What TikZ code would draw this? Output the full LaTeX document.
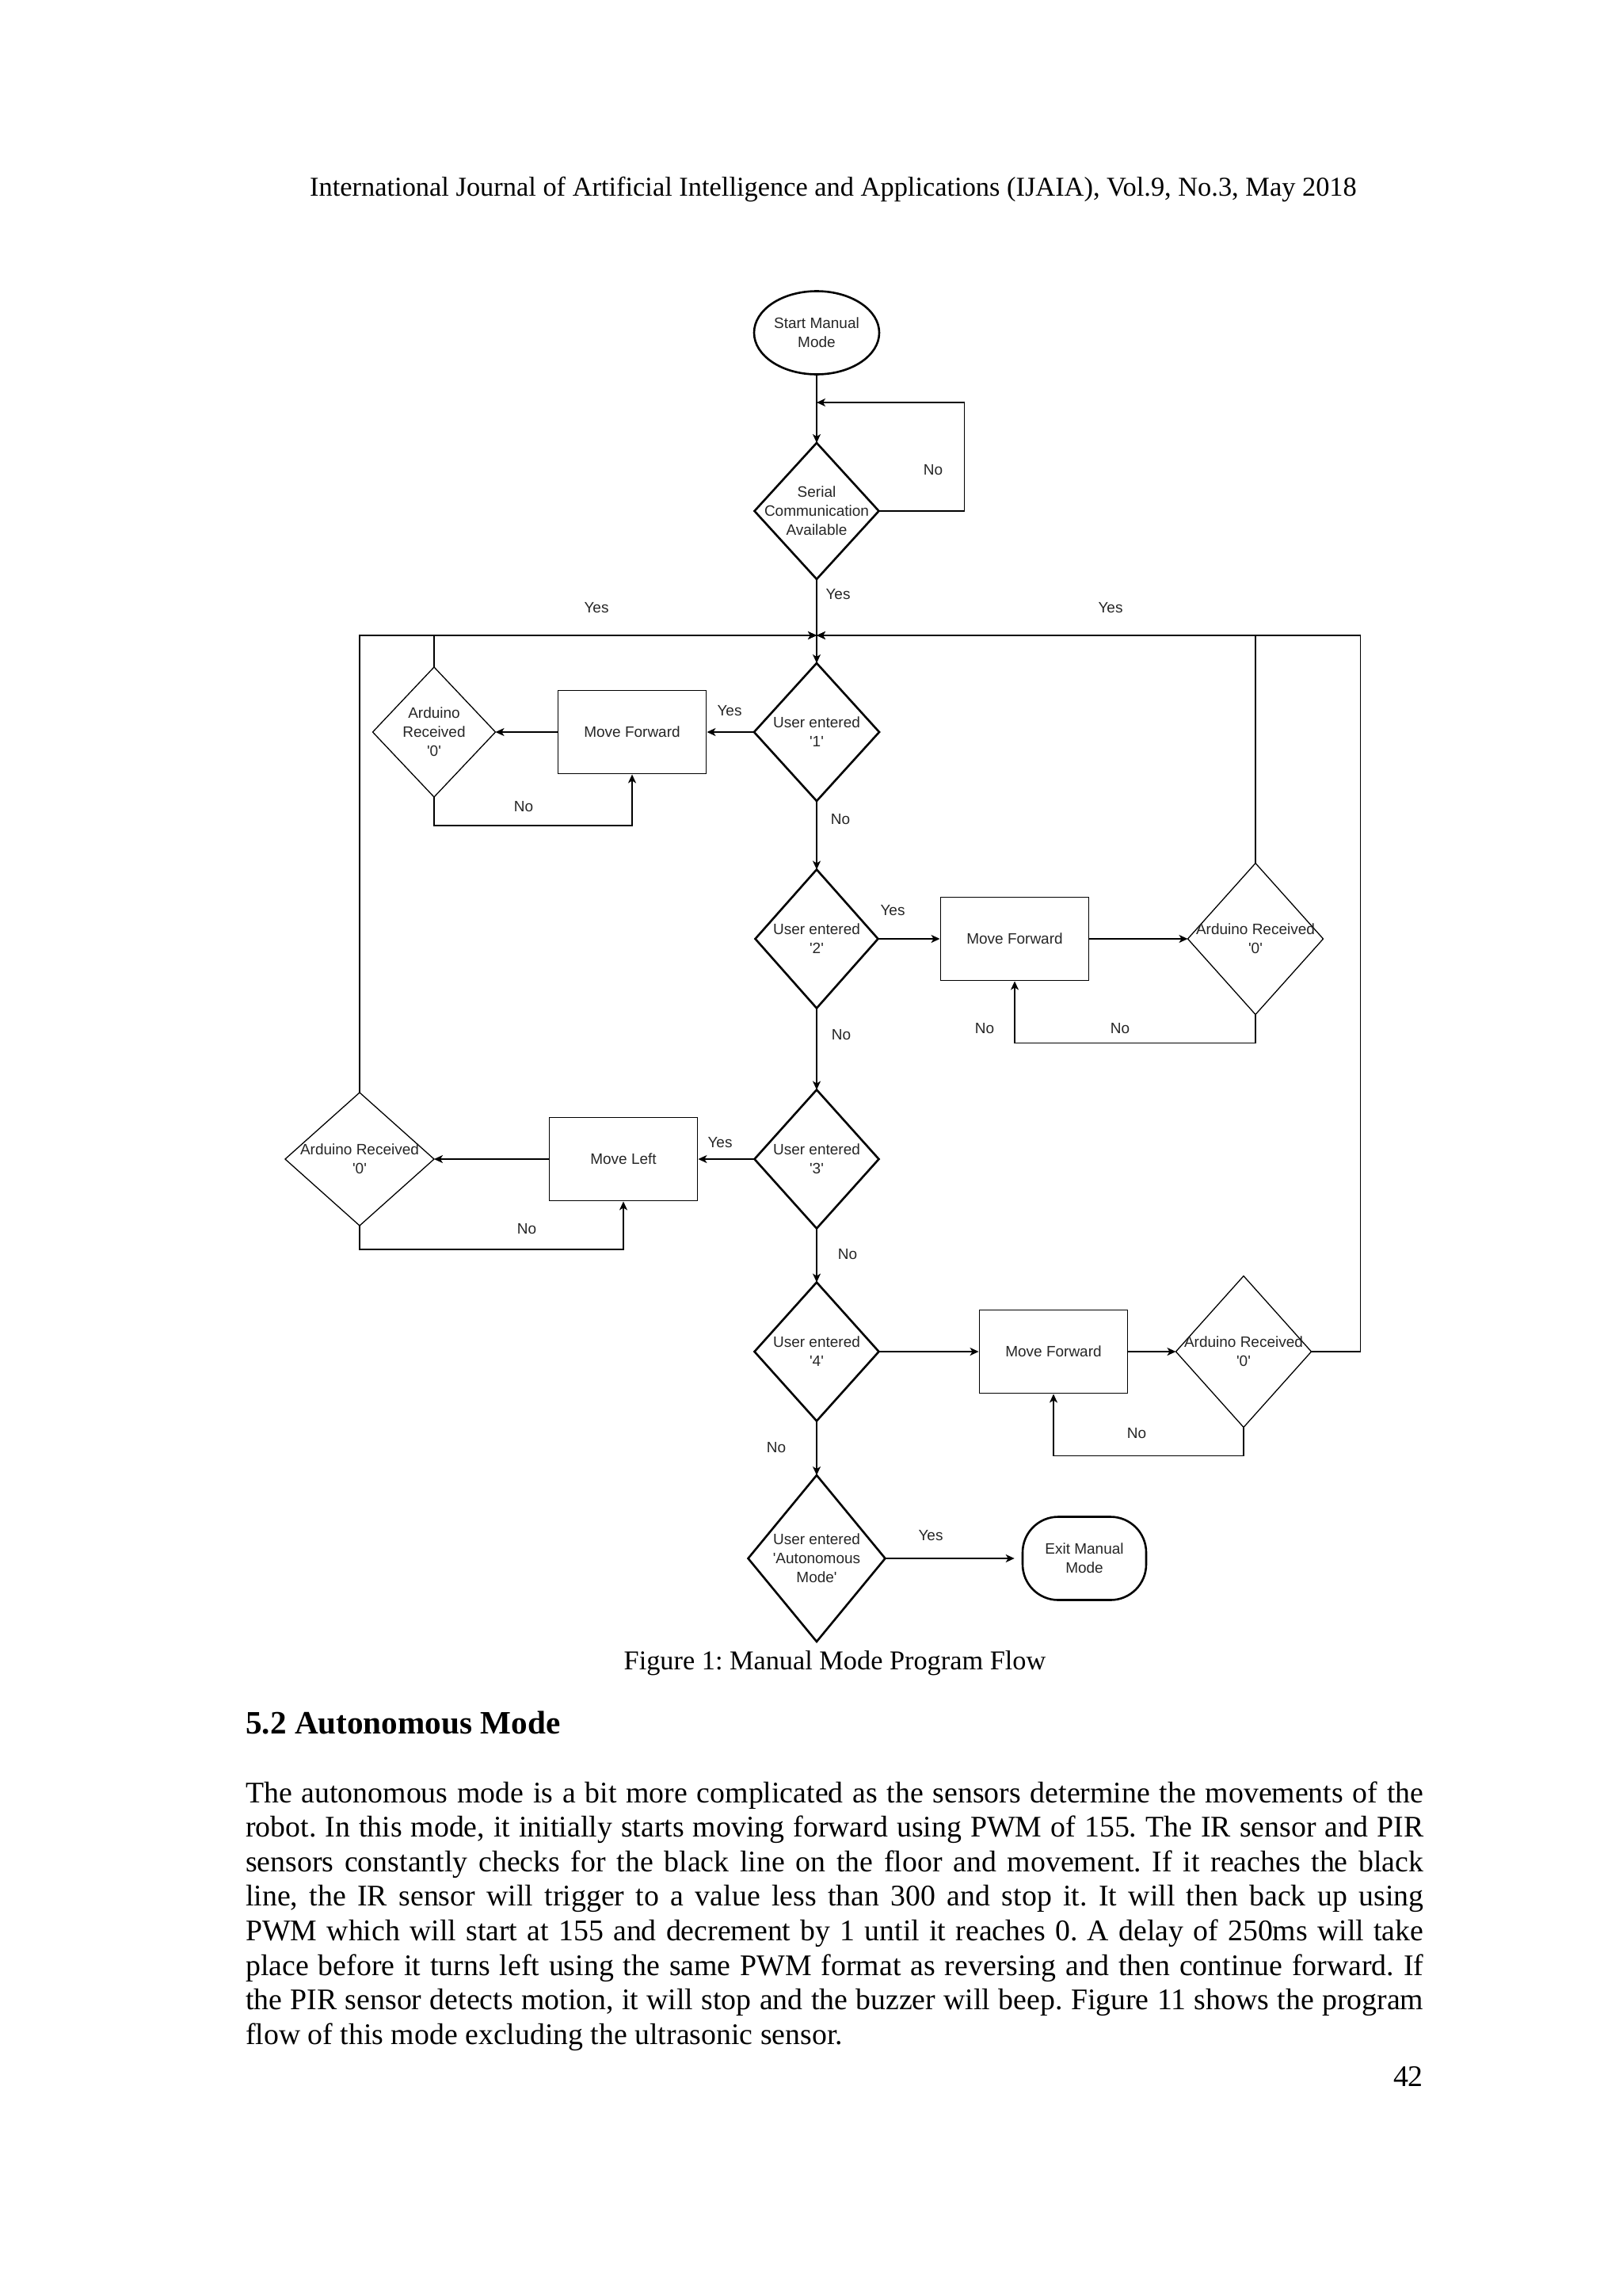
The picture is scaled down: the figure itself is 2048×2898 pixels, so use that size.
\documentclass[tikz,border=0pt]{standalone}
\usepackage{fontspec}
\usetikzlibrary{shapes.geometric,arrows.meta,calc}
\newfontfamily\flowfont{Liberation Sans}
\newfontfamily\tnr{Liberation Serif}
\newcommand{\myq}{\textquotesingle}
\begin{document}
\frenchspacing
\begin{tikzpicture}[x=1pt,y=-1pt,
  flow/.style={font=\flowfont\fontsize{19pt}{24pt}\selectfont, text=black!85, align=center, inner sep=0pt},
  lbl/.style={flow},
  udec/.style={diamond, draw, line width=2.6pt, inner sep=0pt, outer sep=0pt},
  adec/.style={diamond, draw, line width=1.3pt, inner sep=0pt, outer sep=0pt},
  proc/.style={rectangle, draw, line width=1.9pt, minimum width=187pt, minimum height=105pt, flow},
  termE/.style={ellipse, draw, line width=2.6pt, minimum width=158pt, minimum height=105pt, flow},
  termR/.style={rectangle, rounded corners=45pt, draw, line width=2.6pt, minimum width=156pt, minimum height=105pt, flow},
  arr/.style={line width=1.6pt, -{Stealth[length=11pt,width=10pt,inset=3pt]}},
  body/.style={font=\tnr\fontsize{37.8pt}{43.7pt}\selectfont, inner sep=0pt, anchor=base west},
]
\fill[white] (0,0) rectangle (2048,2898);
\useasboundingbox (0,0) rectangle (2048,2898);

% header
\node[font=\tnr\fontsize{34.4pt}{40pt}\selectfont, inner sep=0pt, anchor=base] (hdr) at (1052,247)
  {International Journal of Artificial Intelligence and Applications (IJAIA), Vol.9, No.3, May 2018};

% flowchart nodes
\node[termE] (start) at (1031,420) {Start Manual\\Mode};
\node[udec, minimum width=157pt, minimum height=172pt,
  label={[flow]center:{Serial\\Communication\\Available}}] (ser) at (1031,645) {};

\node[udec, minimum width=158pt, minimum height=174pt,
  label={[flow]center:{User entered\\\myq1\myq}}] (d1) at (1031,924) {};
\node[proc] (mf1) at (798,924) {Move Forward};
\node[adec, minimum width=155pt, minimum height=164pt,
  label={[flow]center:{Arduino\\Received\\\myq0\myq}}] (a1) at (548,924) {};

\node[udec, minimum width=155pt, minimum height=175pt,
  label={[flow]center:{User entered\\\myq2\myq}}] (d2) at (1031,1185) {};
\node[proc] (mf2) at (1281,1185) {Move Forward};
\node[adec, minimum width=171pt, minimum height=191pt,
  label={[flow]center:{Arduino Received\\\myq0\myq}}] (a2) at (1585,1185) {};

\node[udec, minimum width=157pt, minimum height=175pt,
  label={[flow]center:{User entered\\\myq3\myq}}] (d3) at (1031,1463) {};
\node[proc] (ml) at (787,1463) {Move Left};
\node[adec, minimum width=188pt, minimum height=168pt,
  label={[flow]center:{Arduino Received\\\myq0\myq}}] (a3) at (454,1463) {};

\node[udec, minimum width=157pt, minimum height=175pt,
  label={[flow]center:{User entered\\\myq4\myq}}] (d4) at (1031,1706) {};
\node[proc] (mf4) at (1330,1706) {Move Forward};
\node[adec, minimum width=171pt, minimum height=191pt,
  label={[flow]center:{Arduino Received\\\myq0\myq}}] (a4) at (1570,1706) {};

\node[udec, minimum width=173pt, minimum height=210pt,
  label={[flow]center:{User entered\\\myq Autonomous\\Mode\myq}}] (d5) at (1031,1967) {};
\node[termR] (exit) at (1369,1967) {Exit Manual\\Mode};

\coordinate (loopin) at (1031,508);
\coordinate (j) at (1031,802);

% connectors
\draw[arr] (start) -- (ser);
\draw[arr] (ser.east) -- ++(108,0) |- (loopin);
\draw[arr] (ser) -- (d1);
\draw[arr] (a1.north) |- (j);
\draw[arr] (a3.north) |- (j);
\draw[arr] (a2.north) |- (j);
\draw[arr] (a4.east) -- ++(62,0) |- (j);

\draw[arr] (d1) -- (mf1);
\draw[arr] (mf1) -- (a1);
\draw[arr] (a1.south) -- ++(0,36) -| (mf1.south);

\draw[arr] (d1) -- (d2);
\draw[arr] (d2) -- (mf2);
\draw[arr] (mf2) -- (a2);
\draw[arr] (a2.south) -- ++(0,36) -| (mf2.south);

\draw[arr] (d2) -- (d3);
\draw[arr] (d3) -- (ml);
\draw[arr] (ml) -- (a3);
\draw[arr] (a3.south) -- ++(0,30) -| (ml.south);

\draw[arr] (d3) -- (d4);
\draw[arr] (d4) -- (mf4);
\draw[arr] (mf4) -- (a4);
\draw[arr] (a4.south) -- ++(0,36) -| (mf4.south);

\draw[arr] (d4) -- (d5);
\draw[arr, shorten >=9pt] (d5) -- (exit);

% connector labels
\node[lbl] (lno0) at (1178,593) {No};
\node[lbl] (lyes0) at (1058,750) {Yes};
\node[lbl] (lyesL) at (753,767) {Yes};
\node[lbl] (lyesR) at (1402,767) {Yes};
\node[lbl] (lyes1) at (921,897) {Yes};
\node[lbl] (lno1a) at (661,1018) {No};
\node[lbl] (lno1) at (1061,1034) {No};
\node[lbl] (lyes2) at (1127,1149) {Yes};
\node[lbl] (lno2a) at (1243,1298) {No};
\node[lbl] (lno2b) at (1414,1298) {No};
\node[lbl] (lno2) at (1062,1306) {No};
\node[lbl] (lyes3) at (909,1442) {Yes};
\node[lbl] (lno3a) at (665,1551) {No};
\node[lbl] (lno3) at (1070,1583) {No};
\node[lbl] (lno4a) at (1435,1809) {No};
\node[lbl] (lno4) at (980,1827) {No};
\node[lbl] (lyes5) at (1175,1938) {Yes};

% caption and text
\node[font=\tnr\fontsize{34.3pt}{40pt}\selectfont, inner sep=0pt, anchor=base] (cap) at (1054,2107)
  {Figure 1: Manual Mode Program Flow};
\node[font=\tnr\bfseries\fontsize{41.2pt}{48pt}\selectfont, inner sep=0pt, anchor=base west] (sec) at (310,2188)
  {5.2 Autonomous Mode};

\node[body] (p1) at (310,2275) {\makebox[1487pt][s]{The autonomous mode is a bit more complicated as the sensors determine the movements of the}};
\node[body] (p2) at (310,2318.6) {\makebox[1487pt][s]{robot. In this mode, it initially starts moving forward using PWM of 155. The IR sensor and PIR}};
\node[body] (p3) at (310,2362.2) {\makebox[1487pt][s]{sensors constantly checks for the black line on the floor and movement. If it reaches the black}};
\node[body] (p4) at (310,2405.8) {\makebox[1487pt][s]{line, the IR sensor will trigger to a value less than 300 and stop it. It will then back up using}};
\node[body] (p5) at (310,2449.4) {\makebox[1487pt][s]{PWM which will start at 155 and decrement by 1 until it reaches 0. A delay of 250ms will take}};
\node[body] (p6) at (310,2493) {\makebox[1487pt][s]{place before it turns left using the same PWM format as reversing and then continue forward. If}};
\node[body] (p7) at (310,2536.6) {\makebox[1487pt][s]{the PIR sensor detects motion, it will stop and the buzzer will beep. Figure 11 shows the program}};
\node[body] (p8) at (310,2580.2) {flow of this mode excluding the ultrasonic sensor.};
\node[body, anchor=base east] (pg) at (1797,2633) {42};
\end{tikzpicture}
\end{document}
